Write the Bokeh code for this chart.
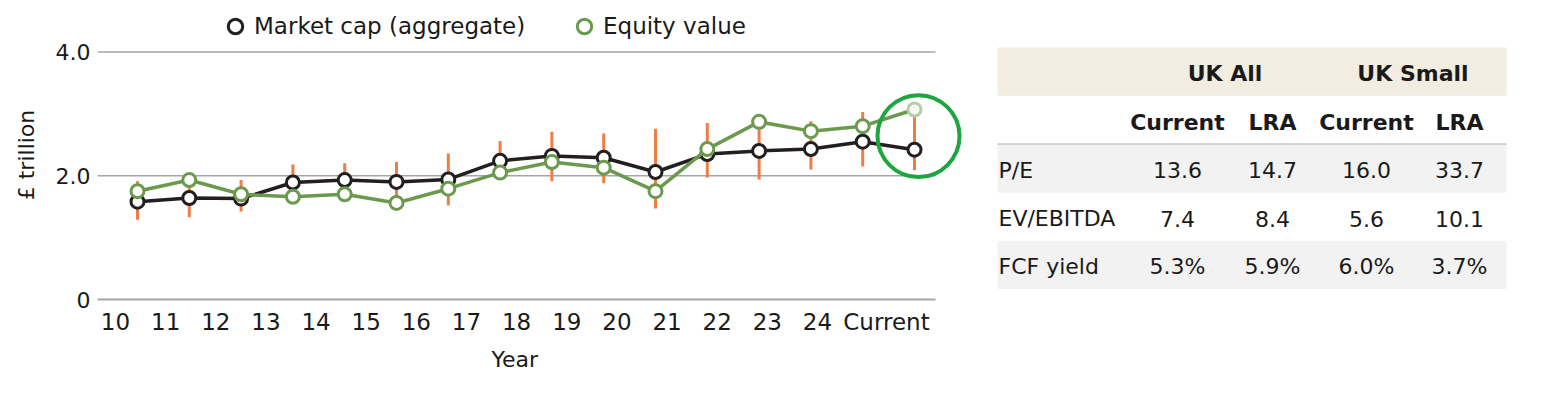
from bokeh.plotting import figure
from bokeh.models import Range1d, FixedTicker, Legend, LegendItem, ColumnDataSource, Title
from bokeh.layouts import row
from bokeh.embed import file_html
from bokeh.resources import INLINE
from bokeh.core.properties import value

# ---------------- data ----------------
years = ["10", "11", "12", "13", "14", "15", "16", "17", "18", "19", "20",
         "21", "22", "23", "24", "Current"]
market_cap = [1.58, 1.64, 1.63, 1.89, 1.93, 1.90, 1.94, 2.24, 2.32, 2.29,
              2.06, 2.35, 2.40, 2.43, 2.55, 2.42]
equity_value = [1.75, 1.93, 1.70, 1.66, 1.70, 1.56, 1.79, 2.05, 2.22, 2.13,
                1.75, 2.43, 2.87, 2.72, 2.80, 3.07]
range_low = [1.29, 1.33, 1.42, 1.75, 1.75, 1.62, 1.52, 2.10, 1.91, 1.88,
             1.47, 1.97, 1.94, 2.10, 2.15, 2.09]
range_high = [1.91, 1.90, 1.93, 2.18, 2.20, 2.22, 2.36, 2.56, 2.71, 2.68,
              2.76, 2.85, 2.90, 2.88, 3.03, 3.05]
y_ticks = [0, 2, 4]
y_tick_labels = ["0", "2.0", "4.0"]
series_names = ["Market cap (aggregate)", "Equity value"]
x_title = "Year"
y_title = "£ trillion"
highlight_y = 2.64

table_groups = ["UK All", "UK Small"]
table_subheads = ["Current", "LRA", "Current", "LRA"]
table_rows = ["P/E", "EV/EBITDA", "FCF yield"]
uk_all_current = ["13.6", "7.4", "5.3%"]
uk_all_lra = ["14.7", "8.4", "5.9%"]
uk_small_current = ["16.0", "5.6", "6.0%"]
uk_small_lra = ["33.7", "10.1", "3.7%"]

# ---------------- styles ----------------
FONT = "DejaVu Sans"
TXT = "#1a1a1a"
BLACK = "#231f20"
GREEN = "#6b9a4f"
ORANGE = "#ef7d47"
GRID = "#a6a6a6"

# ---------------- chart ----------------
n = len(years)
idx = list(range(n))
# pixel geometry of the plot area
FRAME_L, AXIS_R, FRAME_R = 97, 935, 968
P0, STEP = 137, 51.8
LBL0, LBL_STEP, LBL_LAST = 115, 50.14, 886
x_start = (FRAME_L - P0) / STEP
x_axis_end = (AXIS_R - P0) / STEP
x_end = (FRAME_R - P0) / STEP
tick_px = [LBL0 + LBL_STEP * j for j in range(n - 1)] + [LBL_LAST]
tick_pos = [round((px - P0) / STEP, 4) for px in tick_px]

p = figure(width=970, height=378, output_backend="svg", toolbar_location=None,
           x_range=Range1d(x_start, x_end), y_range=Range1d(0, 4.669),
           min_border_left=97, min_border_right=2, min_border_top=10,
           min_border_bottom=79)
p.frame_align = False
p.outline_line_color = None
p.xgrid.visible = False
p.ygrid.visible = False
p.yaxis.ticker = FixedTicker(ticks=y_ticks)
p.yaxis.major_label_overrides = {t: l for t, l in zip(y_ticks, y_tick_labels)}
p.yaxis.axis_line_color = None
p.yaxis.major_tick_line_color = None
p.yaxis.minor_tick_line_color = None
p.yaxis.major_tick_out = 0
p.yaxis.major_tick_in = 0
p.yaxis.major_label_standoff = 7
p.yaxis.major_label_text_font = FONT
p.yaxis.major_label_text_font_size = "22px"
p.yaxis.major_label_text_color = TXT
p.yaxis.axis_label = y_title
p.yaxis.axis_label_text_font = FONT
p.yaxis.axis_label_text_font_size = "22px"
p.yaxis.axis_label_text_font_style = "normal"
p.yaxis.axis_label_text_color = TXT
p.yaxis.axis_label_standoff = 14

p.xaxis.ticker = FixedTicker(ticks=tick_pos)
p.xaxis.bounds = (x_start, x_axis_end)
p.xaxis.major_label_overrides = {t: y for t, y in zip(tick_pos, years)}
p.xaxis.axis_line_color = GRID
p.xaxis.axis_line_width = 2
p.xaxis.major_tick_line_color = None
p.xaxis.minor_tick_line_color = None
p.xaxis.major_tick_out = 0
p.xaxis.major_tick_in = 0
p.xaxis.major_label_standoff = 9
p.xaxis.major_label_text_font = FONT
p.xaxis.major_label_text_font_size = "23px"
p.xaxis.major_label_text_color = TXT

# x-axis title, centred under the category axis (not under the wider frame)
p.add_layout(Title(text=x_title, align="left", offset=394, standoff=14,
                   text_font=FONT, text_font_size="22px",
                   text_font_style="normal", text_color=TXT), "below")

# horizontal grid lines, ending where the category axis ends
grid_ticks = [v for v in y_ticks if v != 0]
p.segment(x0=[x_start] * len(grid_ticks), y0=grid_ticks,
          x1=[x_axis_end] * len(grid_ticks), y1=grid_ticks,
          line_color=GRID, line_width=1.5)

src = ColumnDataSource(dict(x=idx, mc=market_cap, ev=equity_value,
                            lo=range_low, hi=range_high))
p.segment(x0="x", y0="lo", x1="x", y1="hi", source=src,
          line_color=ORANGE, line_width=3)
p.line("x", "mc", source=src, line_color=BLACK, line_width=3.5)
r_mc = p.scatter("x", "mc", source=src, size=13, marker="circle",
                 fill_color="white", line_color=BLACK, line_width=3)
p.line("x", "ev", source=src, line_color=GREEN, line_width=3.5)
src_ev = ColumnDataSource(dict(x=idx[:-1], ev=equity_value[:-1]))
r_ev = p.scatter("x", "ev", source=src_ev, size=13, marker="circle",
                 fill_color="white", line_color=GREEN, line_width=3)
p.scatter([idx[-1]], [equity_value[-1]], size=13, marker="circle",
          fill_color="#f5f8f2", line_color="#b7cdaa", line_width=3)
# highlight ring around the "Current" values
p.scatter([idx[-1] + 4 / STEP], [highlight_y], size=82, marker="circle",
          fill_color=None, line_color="#1da540", line_width=4)

for r, name, lx in [(r_mc, series_names[0], 120), (r_ev, series_names[1], 469)]:
    lg = Legend(items=[LegendItem(label=name, renderers=[r])],
                location=(lx, 255), orientation="horizontal",
                glyph_width=36, glyph_height=36, label_standoff=1,
                padding=0, margin=0, border_line_color=None,
                background_fill_alpha=0,
                label_text_font=FONT, label_text_font_size="23px",
                label_text_color=TXT)
    p.add_layout(lg)

# ---------------- table ----------------
TW, TH = 564, 378
t = figure(width=TW, height=TH, output_backend="svg", toolbar_location=None,
           x_range=Range1d(0, TW), y_range=Range1d(TH, 0),
           x_axis_location=None, y_axis_location=None, min_border=0)
t.frame_align = False
t.outline_line_color = None
t.xgrid.visible = False
t.ygrid.visible = False

T_L, T_R = 27, 536
HDR_TOP, ROW_H = 47, 48.3
col_x = [207, 302, 396, 489]
grp_x = [(col_x[0] + col_x[1]) / 2, (col_x[2] + col_x[3]) / 2]

t.quad(left=[T_L], right=[T_R], top=[HDR_TOP], bottom=[HDR_TOP + ROW_H],
       fill_color="#f3ede1", line_color=None)
body_top = HDR_TOP + 2 * ROW_H
for i in range(len(table_rows)):
    if i % 2 == 0:
        t.quad(left=[T_L], right=[T_R], top=[body_top + i * ROW_H],
               bottom=[body_top + (i + 1) * ROW_H],
               fill_color="#f2f2f2", line_color=None)
t.segment(x0=[T_L], y0=[body_top], x1=[T_R], y1=[body_top],
          line_color="#c8c8c8", line_width=1.5)

txt_kw = dict(text_font=value(FONT), text_font_size="22px", text_color=TXT,
              text_baseline="middle")
t.text(x=grp_x, y=[HDR_TOP + ROW_H / 2 + 2] * 2, text=table_groups,
       text_align="center", text_font_style="bold", **txt_kw)
t.text(x=col_x, y=[HDR_TOP + 1.5 * ROW_H + 3] * 4, text=table_subheads,
       text_align="center", text_font_style="bold", **txt_kw)
row_y = [body_top + (i + 0.5) * ROW_H + 2 for i in range(len(table_rows))]
t.text(x=[T_L + 1] * len(table_rows), y=row_y, text=table_rows,
       text_align="left", **txt_kw)
for cx, col in zip(col_x, [uk_all_current, uk_all_lra, uk_small_current, uk_small_lra]):
    t.text(x=[cx] * len(col), y=row_y, text=col, text_align="center", **txt_kw)

layout = row(p, t, spacing=0)
open("out.html", "w").write(file_html(layout, INLINE))
